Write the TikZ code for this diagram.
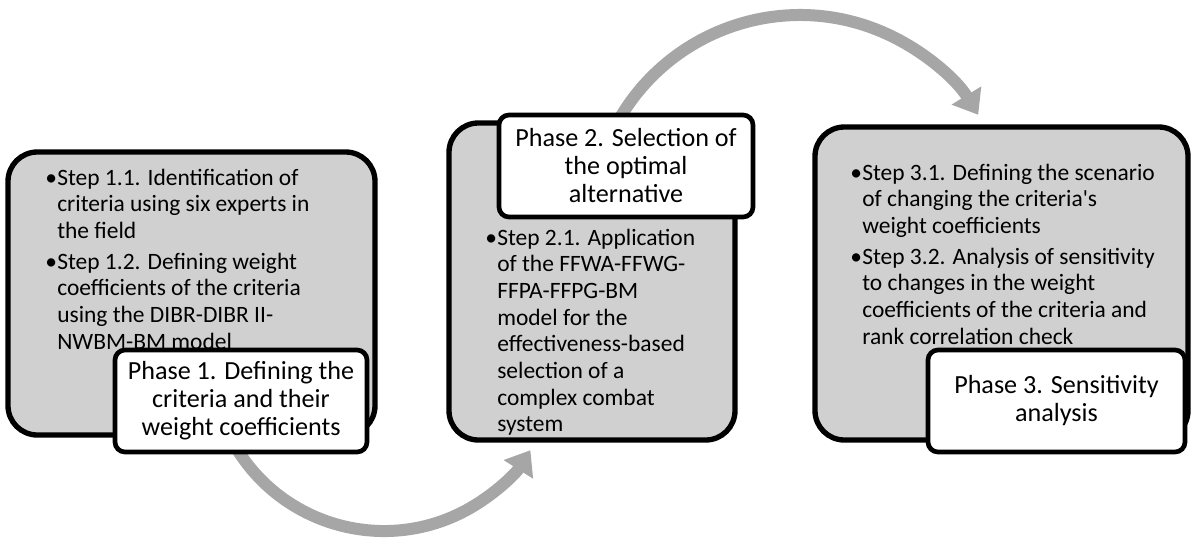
\documentclass[tikz,border=0pt]{standalone}
\usepackage{fontspec}
\setmainfont{Carlito}[Ligatures=TeXOff]
\usetikzlibrary{arrows.meta}
\definecolor{boxgray}{RGB}{208,208,208}
\definecolor{arrowgray}{RGB}{166,166,166}
\newcommand\bodyfont{\fontsize{17.6}{20}\selectfont}
\newcommand\labelfont{\fontsize{19.6}{21}\selectfont}
\newcommand\bul{\makebox[9pt][l]{•}}
\tikzset{
  graybox/.style={draw=black, line width=4pt, rounded corners=22pt, fill=boxgray, inner sep=0pt},
  labelbox/.style={draw=black, line width=3.5pt, rounded corners=7.5pt, fill=white, align=center, inner sep=0pt, font=\labelfont},
  steptext/.style={anchor=base west, inner sep=0pt, font=\bodyfont},
  cyclearrow/.style={draw=arrowgray, line width=9pt, -{Triangle[length=17pt,width=25pt]}}
}
\begin{document}
\begin{tikzpicture}[x=0.75pt,y=-0.75pt]
\useasboundingbox (0,0) rectangle (1191,544);
% arrow start points (hidden behind the phase labels)
\coordinate (s1) at (234.2,444.5);
\coordinate (s2) at (610.6,135.7);
\draw[cyclearrow] (s1) arc[start angle=210, end angle=327.8, radius=129.75pt];
\draw[cyclearrow] (s2) arc[start angle=155, end angle=31.5, radius=156.75pt];
% gray phase boxes
\node[graybox, minimum width=275.25pt, minimum height=212.25pt] (b1) at (191.5,293.5) {};
\node[graybox, minimum width=214.5pt, minimum height=237.75pt] (b2) at (592,281.5) {};
\node[graybox, minimum width=279.75pt, minimum height=234.75pt] (b3) at (1001.5,283.5) {};
% step texts
\node[steptext] (t1) at (45,185) {\begin{tabular}[t]{@{}l@{}l@{}}
\bul & Step 1.1. Identification of\\
 & criteria using six experts in\\
 & the field\\[3pt]
\bul & Step 1.2. Defining weight\\
 & coefficients of the criteria\\
 & using the DIBR-DIBR II-\\
 & NWBM-BM model
\end{tabular}};
\node[steptext] (t2) at (485,245) {\begin{tabular}[t]{@{}l@{}l@{}}
\bul & Step 2.1. Application\\
 & of the FFWA-FFWG-\\
 & FFPA-FFPG-BM\\
 & model for the\\
 & effectiveness-based\\
 & selection of a\\
 & complex combat\\
 & system
\end{tabular}};
\node[steptext] (t3) at (850,180) {\begin{tabular}[t]{@{}l@{}l@{}}
\bul & Step 3.1. Defining the scenario\\
 & of changing the criteria's\\
 & weight coefficients\\[3pt]
\bul & Step 3.2. Analysis of sensitivity\\
 & to changes in the weight\\
 & coefficients of the criteria and\\
 & rank correlation check
\end{tabular}};
% phase labels
\node[labelbox, minimum width=189pt, minimum height=76.5pt] (p1) at (241,401) {Phase 1. Defining the\\criteria and their\\weight coefficients};
\node[labelbox, minimum width=190.5pt, minimum height=76.5pt] (p2) at (626,166) {Phase 2. Selection of\\the optimal\\alternative};
\node[labelbox, minimum width=192.75pt, minimum height=76.5pt] (p3) at (1056.5,401) {Phase 3. Sensitivity\\analysis};
\end{tikzpicture}
\end{document}
